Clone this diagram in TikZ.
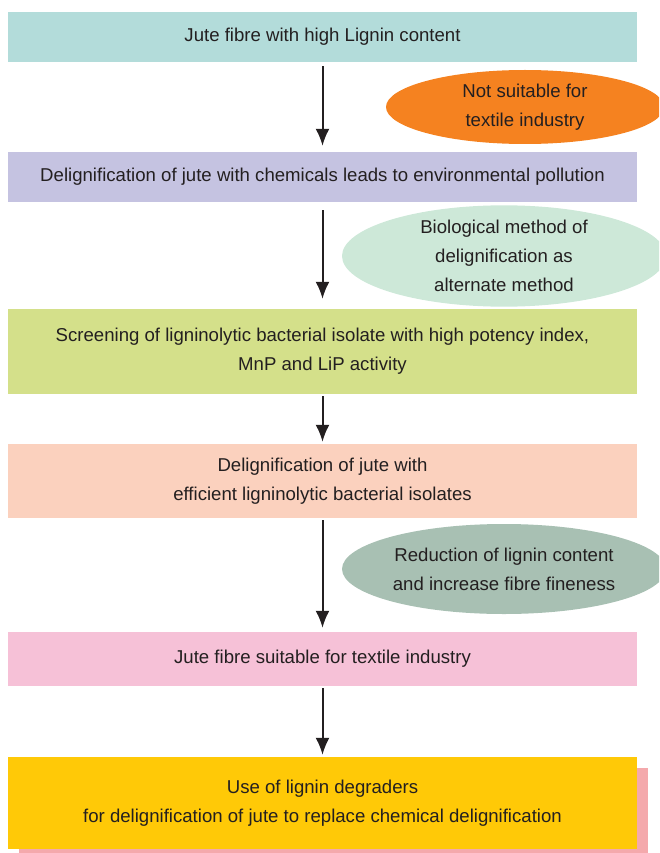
\documentclass[tikz,border=0pt]{standalone}
\usepackage{fontspec}
\setmainfont{Liberation Sans}
\usetikzlibrary{arrows.meta,shapes.geometric,shadows}

\definecolor{ink}{HTML}{231F20}
\definecolor{tealbox}{HTML}{B3DCDA}
\definecolor{lilacbox}{HTML}{C5C3E1}
\definecolor{limebox}{HTML}{D4E08A}
\definecolor{peachbox}{HTML}{FBD1BE}
\definecolor{pinkbox}{HTML}{F6C1D7}
\definecolor{goldbox}{HTML}{FFC907}
\definecolor{rosebox}{HTML}{F4A9AC}
\definecolor{orangenote}{HTML}{F58220}
\definecolor{mintnote}{HTML}{CDE8D8}
\definecolor{sagenote}{HTML}{A8C0B3}

\begin{document}
\begin{tikzpicture}[x=1pt, y=-1pt, >={Latex[length=17pt,width=14pt]},
  every node/.style={text=ink, font=\fontsize{18.6}{29}\selectfont, align=center},
  stage/.style={rectangle, minimum width=629pt, inner sep=0pt},
  note/.style={ellipse, inner sep=0pt}]

\clip (0,0) rectangle (659,853);

% main flow
\node [stage, fill=tealbox, minimum height=50pt] (fibre) at (322.5,37)
  {Jute fibre with high Lignin content};
\node [stage, fill=lilacbox, minimum height=50pt] (chemical) at (322.5,177)
  {Delignification of jute with chemicals leads to environmental pollution};
\node [stage, fill=limebox, minimum height=85pt] (screening) at (322.5,351.5)
  {Screening of ligninolytic bacterial isolate with high potency index,\\MnP and LiP activity};
\node [stage, fill=peachbox, minimum height=74pt] (bacterial) at (322.5,481)
  {Delignification of jute with\\efficient ligninolytic bacterial isolates};
\node [stage, fill=pinkbox, minimum height=54pt] (suitable) at (322.5,659)
  {Jute fibre suitable for textile industry};
\node [stage, fill=goldbox, minimum height=92pt,
  drop shadow={shadow xshift=11pt, shadow yshift=-11pt, fill=rosebox, opacity=1}]
  (degraders) at (322.5,803)
  {Use of lignin degraders\\for delignification of jute to replace chemical delignification};

% side notes
\node [note, fill=orangenote, minimum width=278pt, minimum height=74pt] (unsuitable) at (525,107)
  {Not suitable for\\textile industry};
\node [note, fill=mintnote, minimum width=324pt, minimum height=85pt] (biological) at (504,256)
  {Biological method of\\delignification as\\alternate method};
\node [note, fill=sagenote, minimum width=324pt, minimum height=90pt] (reduction) at (504,569)
  {Reduction of lignin content\\and increase fibre fineness};

\foreach \a/\b/\s/\e in {fibre/chemical/4/6, chemical/screening/8/10, screening/bacterial/2/2,
                         bacterial/suitable/2/4, suitable/degraders/2/2}
  \draw [->, ink, line width=2pt, shorten <=\s pt, shorten >=\e pt] (\a.south) -- (\b.north);
\end{tikzpicture}
\end{document}
